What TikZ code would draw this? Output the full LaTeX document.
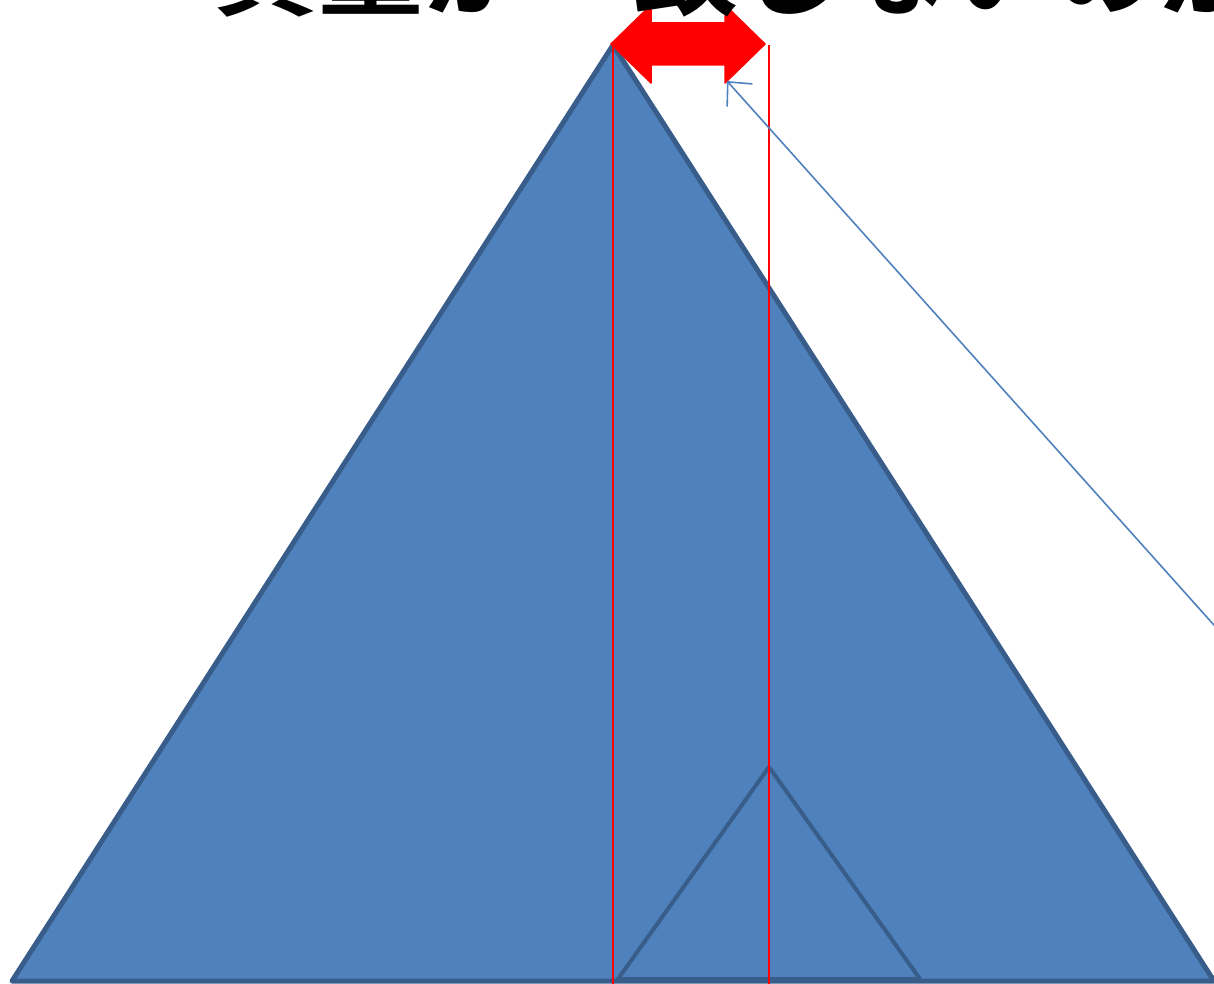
\documentclass[tikz,border=0pt]{standalone}
\usepackage{fontspec}
\newfontfamily\jpfont{Noto Sans CJK JP}[BoldFont={* Bold}]
\usetikzlibrary{arrows.meta}
\definecolor{fillblue}{HTML}{4F81BD}
\definecolor{edgeblue}{HTML}{385D8A}
\tikzset{
  tri/.style={fill=fillblue,draw=edgeblue,line width=5pt,line join=round},
  guide/.style={draw=red,line width=1.5pt},
  redarrow/.style={fill=red,draw=red,line width=1.5pt,line join=round},
  pointer/.style={draw=fillblue,line width=1.6pt,-{Straight Barb[length=18pt,width=34pt]}}
}
\begin{document}
\begin{tikzpicture}[x=1pt,y=-1pt]
\useasboundingbox (0,0) rectangle (1214,984);
\clip (0,0) rectangle (1214,984);
% coordinates
\coordinate (apex) at (613,45);
\coordinate (bl) at (12,981);
\coordinate (br) at (1214,981);
\coordinate (sapex) at (769,767);
\coordinate (sbl) at (618,979);
\coordinate (sbr) at (920,979);
% big triangle
\draw[tri] (apex) -- (br) -- (bl) -- cycle;
% small triangle
\draw[tri,line width=4pt] (sapex) -- (sbr) -- (sbl) -- cycle;
% red guide lines
\coordinate (g1t) at (613,45);
\coordinate (g1b) at (613,990);
\coordinate (g2t) at (769,45);
\coordinate (g2b) at (769,990);
\draw[guide] (g1t) -- (g1b);
\draw[guide] (g2t) -- (g2b);
% red double block arrow
\draw[redarrow] (611,44) -- (651,5) -- (651,23) -- (725,23) -- (725,5) -- (765,44)
  -- (725,83) -- (725,65) -- (651,65) -- (651,83) -- cycle;
% pointer line
\coordinate (pstart) at (1230,643);
\coordinate (pend) at (727,81);
\draw[pointer] (pstart) -- (pend);
% cut-off title text
\node[anchor=base west,inner sep=0pt,font={\jpfont\bfseries\fontsize{105}{110}\selectfont}] (title) at (213,8) {質量が一致しないのが};
\end{tikzpicture}
\end{document}
